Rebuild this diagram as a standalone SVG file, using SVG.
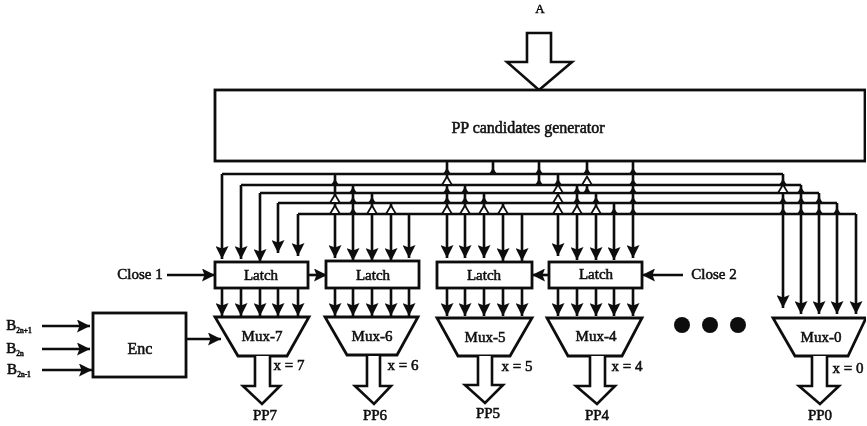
<svg xmlns="http://www.w3.org/2000/svg" xmlns:xlink="http://www.w3.org/1999/xlink" width="867" height="426" viewBox="0 0 867 426">
<style>
.b{fill:#fff;stroke:#111;stroke-width:2.8}
.w{fill:#fff;stroke:#111;stroke-width:2.6;stroke-linejoin:miter}
.c{fill:none;stroke:#111;stroke-width:2.6}
.a{fill:none;stroke:#111;stroke-width:2.6;marker-end:url(#ah)}
.t{font-family:"Liberation Serif","Times New Roman",serif;font-size:15px;fill:#111;stroke:#111;stroke-width:.55;text-anchor:middle}
.s{font-size:7.5px}
</style>
<defs>
<marker id="ah" markerUnits="userSpaceOnUse" markerWidth="14" markerHeight="13" refX="13" refY="6.5" orient="auto"><path d="M0 0L13 6.5L0 13L2.5 6.5Z" fill="#111"/></marker>
<path id="j" d="M-5 0Q-1.5 -1 0 -9Q1.5 -1 5 0Z" fill="#111"/>
<path id="h" d="M-5 0L0 -8.5L5 0Z" fill="#fff" stroke="#111" stroke-width="1.8"/>
<filter id="bl" x="0" y="0" width="100%" height="100%"><feGaussianBlur stdDeviation="0.6"/></filter>
</defs>
<rect width="867" height="426" fill="#fff"/>
<g filter="url(#bl)">
<g id="connectors">
<path class="c" d="M493 161V174M539 161V185M587 161V174M587 185V193"/>
<path class="c" d="M222 174H783M241 185H801M260 193H819M278 203H837M298 214H856"/>
<path class="a" d="M222 174V259"/><path class="a" d="M241 185V259"/><path class="a" d="M260 193V262"/><path class="a" d="M278 203V253"/><path class="a" d="M298 214V256"/>
<path class="a" d="M335 174V258"/><path class="a" d="M353 185V261"/><path class="a" d="M372 193V261"/><path class="a" d="M391 203V261"/><path class="a" d="M409 214V258"/>
<path class="a" d="M447 161V258"/><path class="a" d="M465 185V258"/><path class="a" d="M484 193V258"/><path class="a" d="M503 203V261"/><path class="a" d="M522 214V261"/>
<path class="a" d="M558 174V256"/><path class="a" d="M577 185V260"/><path class="a" d="M596 193V260"/><path class="a" d="M614 203V260"/><path class="a" d="M633 161V258"/>
<path class="a" d="M783 174V308"/><path class="a" d="M801 185V314"/><path class="a" d="M819 193V314"/><path class="a" d="M837 203V314"/><path class="a" d="M856 214V314"/>
<path class="a" d="M222 288V316"/><path class="a" d="M241 288V316"/><path class="a" d="M260 288V316"/><path class="a" d="M278 288V316"/><path class="a" d="M298 288V316"/>
<path class="a" d="M335 288V316"/><path class="a" d="M353 288V316"/><path class="a" d="M372 288V316"/><path class="a" d="M391 288V316"/><path class="a" d="M409 288V316"/>
<path class="a" d="M447 288V316"/><path class="a" d="M465 288V316"/><path class="a" d="M484 288V316"/><path class="a" d="M503 288V316"/><path class="a" d="M522 288V316"/>
<path class="a" d="M558 288V316"/><path class="a" d="M577 288V316"/><path class="a" d="M596 288V316"/><path class="a" d="M614 288V316"/><path class="a" d="M633 288V316"/>
<path class="a" d="M167 275H215"/><path class="a" d="M308 275H327"/><path class="a" d="M549 275H532"/><path class="a" d="M683 275H642"/>
<path class="a" d="M42 326H90"/><path class="a" d="M42 349H90"/><path class="a" d="M42 370H92"/><path class="a" d="M187 339H221"/>
<g id="junctions">
<use xlink:href="#j" x="493" y="174"/><use xlink:href="#j" x="539" y="174"/><use xlink:href="#j" x="587" y="174"/><use xlink:href="#j" x="633" y="174"/><use xlink:href="#j" x="447" y="174"/>
<use xlink:href="#j" x="335" y="185"/><use xlink:href="#h" x="447" y="185"/><use xlink:href="#j" x="539" y="185"/><use xlink:href="#j" x="558" y="185"/><use xlink:href="#h" x="587" y="185"/><use xlink:href="#j" x="633" y="185"/><use xlink:href="#j" x="783" y="185"/>
<use xlink:href="#j" x="353" y="193"/><use xlink:href="#j" x="447" y="193"/><use xlink:href="#j" x="465" y="193"/><use xlink:href="#h" x="558" y="193"/><use xlink:href="#j" x="577" y="193"/><use xlink:href="#j" x="587" y="193"/><use xlink:href="#j" x="633" y="193"/><use xlink:href="#h" x="783" y="193"/><use xlink:href="#j" x="801" y="193"/>
<use xlink:href="#h" x="335" y="203"/><use xlink:href="#j" x="353" y="203"/><use xlink:href="#j" x="372" y="203"/><use xlink:href="#j" x="447" y="203"/><use xlink:href="#j" x="465" y="203"/><use xlink:href="#j" x="484" y="203"/><use xlink:href="#h" x="558" y="203"/><use xlink:href="#j" x="577" y="203"/><use xlink:href="#j" x="596" y="203"/><use xlink:href="#j" x="633" y="203"/><use xlink:href="#j" x="783" y="203"/><use xlink:href="#j" x="801" y="203"/><use xlink:href="#j" x="819" y="203"/>
<use xlink:href="#h" x="335" y="214"/><use xlink:href="#j" x="353" y="214"/><use xlink:href="#h" x="372" y="214"/><use xlink:href="#h" x="391" y="214"/><use xlink:href="#h" x="447" y="214"/><use xlink:href="#h" x="465" y="214"/><use xlink:href="#h" x="484" y="214"/><use xlink:href="#h" x="503" y="214"/><use xlink:href="#h" x="558" y="214"/><use xlink:href="#h" x="577" y="214"/><use xlink:href="#h" x="596" y="214"/><use xlink:href="#j" x="614" y="214"/><use xlink:href="#j" x="633" y="214"/><use xlink:href="#j" x="783" y="214"/><use xlink:href="#j" x="801" y="214"/><use xlink:href="#j" x="819" y="214"/><use xlink:href="#j" x="837" y="214"/>
</g>
</g>
<g id="input-a"><path class="w" d="M527 33H551V62H572L539 90L507 62H527Z"/><text class="t" x="540" y="13" style="font-size:13px">A</text></g>
<g id="pp-generator"><rect class="b" x="215" y="90" width="650" height="71"/><text class="t" x="528" y="133" style="font-size:16px">PP candidates generator</text></g>
<g id="latch-7"><rect class="b" x="215" y="262" width="93" height="26"/><text class="t" x="261" y="280">Latch</text></g>
<g id="latch-6"><rect class="b" x="326" y="261" width="93" height="27"/><text class="t" x="373" y="280">Latch</text></g>
<g id="latch-5"><rect class="b" x="437" y="262" width="95" height="26"/><text class="t" x="484" y="280">Latch</text></g>
<g id="latch-4"><rect class="b" x="549" y="262" width="93" height="26"/><text class="t" x="596" y="279">Latch</text></g>
<g id="close-1"><text class="t" x="140" y="279">Close 1</text></g>
<g id="close-2"><text class="t" x="714" y="279">Close 2</text></g>
<g id="enc"><rect class="b" x="93" y="313" width="93" height="64"/><text class="t" x="140" y="354" style="font-size:16px">Enc</text></g>
<g id="inputs-b">
<text class="t" x="19" y="330">B<tspan class="s" dy="3">2n+1</tspan></text>
<text class="t" x="15" y="353">B<tspan class="s" dy="3">2n</tspan></text>
<text class="t" x="19" y="374">B<tspan class="s" dy="3">2n-1</tspan></text>
</g>
<g id="mux-7"><path class="b" d="M215 317H309L287 356H238Z"/><text class="t" x="262" y="341">Mux-7</text></g>
<g id="mux-6"><path class="b" d="M325 317H418L397 355H347Z"/><text class="t" x="372" y="341">Mux-6</text></g>
<g id="mux-5"><path class="b" d="M437 318H532L510 356H458Z"/><text class="t" x="485" y="342">Mux-5</text></g>
<g id="mux-4"><path class="b" d="M547 318H642L622 356H568Z"/><text class="t" x="596" y="341">Mux-4</text></g>
<g id="mux-0"><path class="b" d="M773 318H866L848 356H795Z"/><text class="t" x="821" y="342">Mux-0</text></g>
<g id="out-7"><path class="w" d="M255 356V386H243L262 404L280 386H270V356"/><text class="t" x="289" y="370">x = 7</text><text class="t" x="265" y="420">PP7</text></g>
<g id="out-6"><path class="w" d="M367 356V386H355L374 404L391 386H380V356"/><text class="t" x="403" y="370">x = 6</text><text class="t" x="375" y="420">PP6</text></g>
<g id="out-5"><path class="w" d="M478 356V385H465L485 403L503 385H492V356"/><text class="t" x="517" y="371">x = 5</text><text class="t" x="488" y="418">PP5</text></g>
<g id="out-4"><path class="w" d="M590 356V386H576L597 404L615 386H605V356"/><text class="t" x="627" y="371">x = 4</text><text class="t" x="597" y="420">PP4</text></g>
<g id="out-0"><path class="w" d="M812 356V386H799L820 404L839 386H827V356"/><text class="t" x="848" y="373">x = 0</text><text class="t" x="820" y="420">PP0</text></g>
<g id="dots"><circle cx="682" cy="325" r="8" fill="#111"/><circle cx="710" cy="325" r="8" fill="#111"/><circle cx="738" cy="325" r="8" fill="#111"/></g>
</g>
</svg>
